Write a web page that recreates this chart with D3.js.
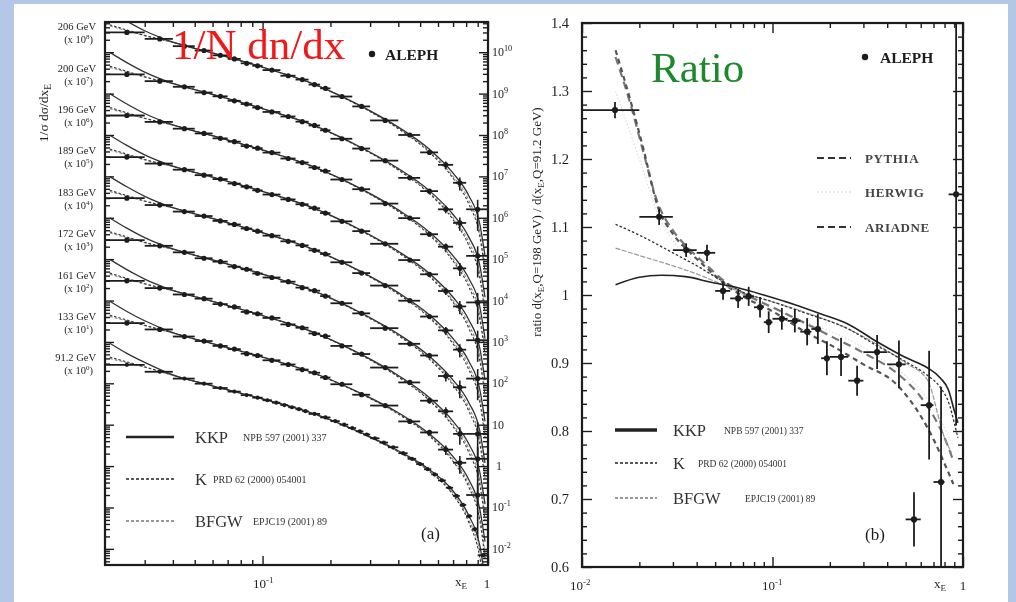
<!DOCTYPE html>
<html>
<head>
<meta charset="utf-8">
<script src="https://cdn.jsdelivr.net/npm/d3@7"></script>
<style>
body { margin: 0; background: #b5c7e6; }
svg { display: block; font-family: "Liberation Serif", "Times New Roman", serif; }
</style>
</head>
<body>
<svg id="chart" width="1016" height="602"></svg>
<script>
// ---- panel (a): 1/sigma dsigma/dx at each energy, scaled by 10^k ----
const energies = ['206 GeV', '200 GeV', '196 GeV', '189 GeV', '183 GeV', '172 GeV', '161 GeV', '133 GeV', '91.2 GeV'];
const scalePow = [8, 7, 6, 5, 4, 3, 2, 1, 0];
const statFactor = [1, 1, 1, 1, 1, 1.3, 1.3, 1.3, 1];

const lep2Edges = [0.02, 0.03, 0.04, 0.05, 0.06, 0.07, 0.08, 0.09, 0.10, 0.12, 0.14, 0.16, 0.18, 0.20, 0.25, 0.30, 0.40, 0.50, 0.60, 0.70, 0.80, 1.00];
const lep2X = [0.025, 0.035, 0.045, 0.055, 0.065, 0.075, 0.085, 0.095, 0.11, 0.13, 0.15, 0.17, 0.19, 0.225, 0.275, 0.35, 0.45, 0.55, 0.65, 0.75, 0.9];
const lep2RelErr = [0.02, 0.02, 0.02, 0.02, 0.02, 0.02, 0.025, 0.025, 0.025, 0.03, 0.03, 0.035, 0.035, 0.04, 0.05, 0.06, 0.08, 0.12, 0.2, 0.35, 0.7];

const z0Edges = [0.02, 0.03, 0.04, 0.05, 0.06, 0.07, 0.08, 0.09, 0.10, 0.11, 0.12, 0.13, 0.14, 0.15, 0.16, 0.18, 0.20, 0.22, 0.24, 0.26, 0.28, 0.30, 0.33, 0.36, 0.40, 0.44, 0.48, 0.52, 0.56, 0.60, 0.65, 0.70, 0.75, 0.80, 0.85, 0.90, 1.00];
const z0X = [0.025, 0.035, 0.045, 0.055, 0.065, 0.075, 0.085, 0.095, 0.105, 0.115, 0.125, 0.135, 0.145, 0.155, 0.17, 0.19, 0.21, 0.23, 0.25, 0.27, 0.29, 0.315, 0.345, 0.38, 0.42, 0.46, 0.5, 0.54, 0.58, 0.625, 0.675, 0.725, 0.775, 0.825, 0.875, 0.95];
const z0RelErr = [0.01, 0.01, 0.01, 0.01, 0.01, 0.01, 0.01, 0.01, 0.01, 0.01, 0.01, 0.01, 0.01, 0.01, 0.01, 0.01, 0.01, 0.01, 0.01, 0.01, 0.01, 0.01, 0.01, 0.01, 0.01, 0.01, 0.01, 0.012, 0.012, 0.015, 0.02, 0.025, 0.03, 0.04, 0.06, 0.1];

const y206 = [300, 210, 140, 110, 84, 69, 54, 47, 37, 27, 21.8, 16.5, 13.4, 8.5, 4.9, 2.25, 1.0, 0.38, 0.19, 0.07, 0.016];
const y200 = [290, 200, 146, 106, 86, 67, 56, 46, 36, 28, 21, 17, 13, 8.1, 4.7, 2.4, 0.92, 0.44, 0.16, 0.075, 0.012];
const y196 = [296, 207, 142, 109, 83, 69, 54, 48, 37.5, 27, 21.6, 16.4, 13.5, 8.4, 4.9, 2.2, 0.98, 0.4, 0.2, 0.06, 0.009];
const y189 = [292, 204, 145, 107, 86, 67, 56, 46, 36.4, 27.8, 21.2, 17, 13, 8.2, 4.75, 2.35, 0.95, 0.43, 0.17, 0.072, 0.011];
const y183 = [298, 203, 141, 110, 84, 69, 55, 47.5, 37, 27, 21.5, 16.3, 13.3, 8.4, 4.6, 2.3, 0.99, 0.41, 0.19, 0.065, 0.013];
const y172 = [288, 210, 146, 105, 87, 66, 57, 45, 36, 28.5, 20.5, 17.3, 12.8, 8.6, 4.9, 2.15, 0.9, 0.47, 0.15, 0.08, 0.006];
const y161 = [300, 200, 140, 111, 82, 70, 53, 48, 38, 26.5, 22, 16, 13.8, 8, 5.1, 2.4, 1.05, 0.38, 0.21, 0.06, 0.015];
const y133 = [285, 200, 135, 105, 80, 67, 52, 47, 36, 28.5, 21.5, 18, 13.8, 9.5, 5.3, 2.9, 1.2, 0.65, 0.25, 0.12, 0.02];
const y912 = [280, 190, 130, 98, 77, 63, 52, 45, 39, 34, 29.8, 26.4, 23.7, 21.2, 18.2, 15, 12.2, 10, 8.3, 6.9, 5.8, 4.7, 3.7, 2.85, 2.05, 1.5, 1.12, 0.84, 0.63, 0.45, 0.3, 0.19, 0.115, 0.062, 0.03, 0.007];

// theory curves: rows for 91.2 GeV, 133 GeV and LEP2 energies
const theoryX = [0.021, 0.025, 0.03, 0.04, 0.06, 0.1, 0.17, 0.27, 0.4, 0.55, 0.7, 0.82, 0.92, 0.97];
const kkpZ0 = [930, 530, 320, 160, 87, 42, 18.2, 6.6, 2.35, 0.82, 0.25, 0.065, 0.012, 0.002];
const kkp133 = [960, 545, 325, 168, 91, 43, 17.5, 5.9, 1.95, 0.6, 0.17, 0.048, 0.009, 0.0015];
const kkpLep2 = [990, 560, 330, 176, 96, 43.5, 16.8, 5.2, 1.55, 0.45, 0.12, 0.035, 0.007, 0.0012];
const kZ0 = [430, 330, 250, 156, 86, 41.5, 18, 6.4, 2.2, 0.74, 0.2, 0.045, 0.006, 0.0008];
const k133 = [445, 338, 252, 165, 90, 42.5, 17.2, 5.7, 1.8, 0.53, 0.13, 0.032, 0.0048, 0.0006];
const kLep2 = [460, 345, 255, 174, 95, 43, 16.5, 5.0, 1.42, 0.38, 0.09, 0.022, 0.0035, 0.0005];
const bfgwZ0 = [400, 315, 245, 155, 86, 42, 18.1, 6.5, 2.25, 0.77, 0.22, 0.052, 0.008, 0.001];
const bfgw133 = [415, 322, 248, 164, 90, 42.8, 17.3, 5.8, 1.85, 0.56, 0.145, 0.038, 0.006, 0.0008];
const bfgwLep2 = [430, 330, 250, 173, 95, 43.2, 16.6, 5.1, 1.47, 0.41, 0.1, 0.027, 0.0045, 0.0007];
const theoryRow = [2, 2, 2, 2, 2, 2, 2, 1, 0];

// ---- panel (b): ratio Q=198 / Q=91.2 ----
const ratioX = [0.0149, 0.0254, 0.0352, 0.0453, 0.055, 0.066, 0.075, 0.086, 0.0955, 0.112, 0.131, 0.152, 0.173, 0.193, 0.229, 0.278, 0.354, 0.461, 0.553, 0.664, 0.767, 0.92];
const ratioLo = [0.01, 0.02, 0.03, 0.04, 0.05, 0.06, 0.07, 0.08, 0.09, 0.10, 0.12, 0.14, 0.16, 0.18, 0.20, 0.25, 0.30, 0.40, 0.50, 0.60, 0.70, 0.84];
const ratioHi = [0.02, 0.03, 0.04, 0.05, 0.06, 0.07, 0.08, 0.09, 0.10, 0.12, 0.14, 0.16, 0.18, 0.20, 0.25, 0.30, 0.40, 0.50, 0.60, 0.70, 0.80, 1.00];
const ratioY = [1.272, 1.115, 1.066, 1.062, 1.006, 0.995, 0.998, 0.982, 0.960, 0.965, 0.962, 0.946, 0.950, 0.907, 0.909, 0.874, 0.916, 0.898, 0.670, 0.838, 0.725, 1.148];
const ratioErr = [0.012, 0.012, 0.01, 0.012, 0.013, 0.014, 0.014, 0.015, 0.016, 0.016, 0.017, 0.02, 0.022, 0.025, 0.028, 0.022, 0.025, 0.035, 0.04, 0.08, 0.14, 0.34];

const ratioKKP = [[0.015, 1.015], [0.02, 1.026], [0.026, 1.029], [0.035, 1.027], [0.047, 1.019], [0.065, 1.011], [0.09, 1.0], [0.13, 0.986], [0.18, 0.972], [0.25, 0.957], [0.35, 0.932], [0.5, 0.908], [0.65, 0.893], [0.76, 0.878], [0.84, 0.86], [0.9, 0.83], [0.94, 0.812]];
const ratioK = [[0.015, 1.104], [0.02, 1.088], [0.03, 1.062], [0.04, 1.043], [0.055, 1.02], [0.07, 1.004], [0.1, 0.99], [0.15, 0.973], [0.25, 0.95], [0.35, 0.926], [0.5, 0.902], [0.65, 0.882], [0.76, 0.864], [0.85, 0.838], [0.9, 0.812], [0.94, 0.79]];
const ratioBFGW = [[0.015, 1.069], [0.02, 1.058], [0.03, 1.043], [0.04, 1.031], [0.055, 1.015], [0.07, 1.003], [0.1, 0.99], [0.15, 0.974], [0.25, 0.95], [0.35, 0.928], [0.5, 0.9], [0.65, 0.875], [0.8, 0.79], [0.87, 0.768]];
const ratioPYTHIA = [[0.015, 1.36], [0.018, 1.285], [0.021, 1.215], [0.025, 1.13], [0.03, 1.09], [0.037, 1.062], [0.045, 1.04], [0.055, 1.018], [0.07, 0.998], [0.1, 0.976], [0.15, 0.945], [0.2, 0.927], [0.3, 0.898], [0.45, 0.868], [0.6, 0.822], [0.7, 0.788], [0.8, 0.752], [0.89, 0.722]];
const ratioARIADNE = [[0.015, 1.35], [0.018, 1.28], [0.021, 1.21], [0.025, 1.135], [0.03, 1.095], [0.037, 1.066], [0.045, 1.044], [0.055, 1.022], [0.07, 1.003], [0.1, 0.982], [0.15, 0.958], [0.2, 0.94], [0.3, 0.915], [0.45, 0.885], [0.6, 0.85], [0.7, 0.822], [0.8, 0.79], [0.88, 0.76]];
const ratioHERWIG = [[0.015, 1.3], [0.02, 1.2], [0.025, 1.12], [0.03, 1.08], [0.04, 1.045], [0.055, 1.02], [0.07, 1.0], [0.1, 0.98], [0.15, 0.96], [0.25, 0.935], [0.4, 0.9], [0.6, 0.86], [0.75, 0.82], [0.88, 0.78]];

const svg = d3.select('#chart');
const ink = '#1e1e1e';

svg.append('rect').attr('x', 14).attr('y', 4).attr('width', 994).attr('height', 598).attr('fill', '#fff');

const defs = svg.append('defs');
defs.append('filter').attr('id', 'soft').attr('x', 0).attr('y', 0).attr('width', 1).attr('height', 1)
	.append('feGaussianBlur').attr('stdDeviation', 0.45);
defs.append('clipPath').attr('id', 'clipA')
	.append('rect').attr('x', 105).attr('y', 22).attr('width', 383).attr('height', 543);
defs.append('clipPath').attr('id', 'clipB')
	.append('rect').attr('x', 582).attr('y', 23).attr('width', 381).attr('height', 544);

const root = svg.append('g').attr('filter', 'url(#soft)');

// ---------- scales ----------
const xA = d3.scaleLog().domain([0.02, 1]).range([105, 488]);
const yA = d3.scaleLog().domain([Math.pow(10, -2.39), Math.pow(10, 10.73)]).range([565, 22]);
const xB = d3.scaleLog().domain([0.01, 1]).range([582, 963]);
const yB = d3.scaleLinear().domain([0.6, 1.4]).range([567, 23]);

function logTicks(scale, major) {
	const [a, b] = scale.domain();
	const out = [];
	for (let d = Math.floor(Math.log10(a)); d <= Math.ceil(Math.log10(b)); d++) {
		for (let k = 1; k <= 9; k++) {
			const v = k * Math.pow(10, d);
			if (v >= a * 0.999 && v <= b * 1.001 && ((k === 1) === major)) out.push(+v.toPrecision(6));
		}
	}
	return out;
}

function tickSet(g, axisFn, scale, values, size, pos) {
	g.append('g')
		.attr('transform', pos)
		.call(axisFn(scale).tickValues(values).tickSize(size).tickSizeOuter(0).tickFormat(() => ''))
		.call(s => s.select('.domain').remove())
		.selectAll('line').attr('stroke', ink).attr('stroke-width', 1.4);
}

function supText(g, x, y, base, sup, size, anchor) {
	const t = g.append('text').attr('x', x).attr('y', y).attr('font-size', size)
		.attr('text-anchor', anchor || 'start').attr('fill', ink);
	t.append('tspan').text(base);
	t.append('tspan').attr('dy', -size * 0.42).attr('font-size', size * 0.68).text(sup);
	return t;
}

// ---------- panel (a) ----------
const pa = root.append('g');
const pac = pa.append('g').attr('clip-path', 'url(#clipA)');

tickSet(pa, d3.axisTop, xA, logTicks(xA, true), 9, 'translate(0,565)');
tickSet(pa, d3.axisTop, xA, logTicks(xA, false), 5, 'translate(0,565)');
tickSet(pa, d3.axisBottom, xA, logTicks(xA, true), 9, 'translate(0,22)');
tickSet(pa, d3.axisBottom, xA, logTicks(xA, false), 5, 'translate(0,22)');
tickSet(pa, d3.axisRight, yA, logTicks(yA, true), 9, 'translate(105,0)');
tickSet(pa, d3.axisRight, yA, logTicks(yA, false), 5, 'translate(105,0)');
tickSet(pa, d3.axisLeft, yA, logTicks(yA, true), 9, 'translate(488,0)');
tickSet(pa, d3.axisLeft, yA, logTicks(yA, false), 5, 'translate(488,0)');

// theory curves
const lineA = d3.line().x(d => xA(d[0])).y(d => yA(d[1])).curve(d3.curveMonotoneX);
const kkpRows = [kkpZ0, kkp133, kkpLep2];
const kRows = [kZ0, k133, kLep2];
const bfgwRows = [bfgwZ0, bfgw133, bfgwLep2];
const models = [
	{rows: bfgwRows, stroke: '#8a8a8a', width: 1.1, dash: '3,2'},
	{rows: kRows, stroke: '#333', width: 1.1, dash: '2.5,2'},
	{rows: kkpRows, stroke: '#333', width: 1.3, dash: null}
];
energies.forEach((e, i) => {
	const f = Math.pow(10, scalePow[i]);
	models.forEach(m => {
		const row = m.rows[theoryRow[i]];
		pac.append('path')
			.datum(theoryX.map((x, j) => [x, row[j] * f]))
			.attr('d', lineA)
			.attr('fill', 'none')
			.attr('stroke', m.stroke)
			.attr('stroke-width', m.width)
			.attr('stroke-dasharray', m.dash);
	});
});

// data points
const seriesY = [y206, y200, y196, y189, y183, y172, y161, y133, y912];
seriesY.forEach((vals, i) => {
	const f = Math.pow(10, scalePow[i]);
	const isZ = i === seriesY.length - 1;
	const xs = isZ ? z0X : lep2X;
	const edges = isZ ? z0Edges : lep2Edges;
	const rel = isZ ? z0RelErr : lep2RelErr;
	const pts = vals.map((v, j) => ({x: xs[j], lo: edges[j], hi: edges[j + 1], y: v * f, e: rel[j] * statFactor[i]}));
	const g = pac.append('g').attr('class', 'series');
	g.selectAll('.hbar').data(pts).enter().append('line')
		.attr('x1', d => xA(d.lo)).attr('x2', d => xA(d.hi))
		.attr('y1', d => yA(d.y)).attr('y2', d => yA(d.y))
		.attr('stroke', ink).attr('stroke-width', 1.8);
	g.selectAll('.vbar').data(pts).enter().append('line')
		.attr('x1', d => xA(d.x)).attr('x2', d => xA(d.x))
		.attr('y1', d => yA(d.y * (1 + d.e))).attr('y2', d => yA(d.y * Math.max(0.05, 1 - d.e)))
		.attr('stroke', ink).attr('stroke-width', 1.6);
	g.selectAll('circle').data(pts).enter().append('circle')
		.attr('cx', d => xA(d.x)).attr('cy', d => yA(d.y))
		.attr('r', isZ ? 2.1 : 2.6).attr('fill', ink);
});

pa.append('rect').attr('x', 105).attr('y', 22).attr('width', 383).attr('height', 543)
	.attr('fill', 'none').attr('stroke', ink).attr('stroke-width', 2.2);

// right-side decade labels
logTicks(yA, true).forEach(v => {
	const p = Math.round(Math.log10(v));
	const y = yA(v) + 4;
	if (p === 0) pa.append('text').attr('x', 496).attr('y', y).attr('font-size', 12).attr('fill', ink).text('1');
	else if (p === 1) pa.append('text').attr('x', 492).attr('y', y).attr('font-size', 12).attr('fill', ink).text('10');
	else supText(pa, 492, y, '10', String(p), 12);
});

// energy labels on the left
energies.forEach((e, i) => {
	const y0 = yA(Math.pow(10, 10 - i)) - 22;
	pa.append('text').attr('x', 96).attr('y', y0).attr('text-anchor', 'end')
		.attr('font-size', 10.5).attr('fill', ink).text(e);
	const t = pa.append('text').attr('x', 93).attr('y', y0 + 13).attr('text-anchor', 'end')
		.attr('font-size', 10.5).attr('fill', ink);
	t.append('tspan').text('(x 10');
	t.append('tspan').attr('dy', -4).attr('font-size', 7).text(String(scalePow[i]));
	t.append('tspan').attr('dy', 4).text(')');
});

const yt = pa.append('text').attr('transform', 'translate(48,113) rotate(-90)')
	.attr('text-anchor', 'middle').attr('font-size', 13.5).attr('fill', ink);
yt.append('tspan').text('1/σ dσ/dx');
yt.append('tspan').attr('dy', 3).attr('font-size', 9.5).text('E');

supText(pa, 253, 588, '10', '-1', 13);
pa.append('text').attr('x', 487).attr('y', 588).attr('text-anchor', 'middle').attr('font-size', 13).attr('fill', ink).text('1');
const xe = pa.append('text').attr('x', 455).attr('y', 586).attr('font-size', 13).attr('fill', ink);
xe.append('tspan').text('x');
xe.append('tspan').attr('dy', 3).attr('font-size', 9).text('E');

pa.append('circle').attr('cx', 372).attr('cy', 54).attr('r', 3.2).attr('fill', ink);
pa.append('text').attr('x', 385).attr('y', 60).attr('font-size', 15.5).attr('font-weight', 'bold').attr('fill', ink).text('ALEPH');

const legA = [
	{name: 'KKP', ref: 'NPB 597 (2001) 337', refX: 243, y: 437, stroke: '#222', width: 2.6, dash: null},
	{name: 'K', ref: 'PRD 62 (2000) 054001', refX: 213, y: 479, stroke: '#222', width: 1.6, dash: '3,2'},
	{name: 'BFGW', ref: 'EPJC19 (2001) 89', refX: 253, y: 521, stroke: '#777', width: 1.5, dash: '3,2'}
];
legA.forEach(l => {
	pa.append('line').attr('x1', 126).attr('x2', 174).attr('y1', l.y).attr('y2', l.y)
		.attr('stroke', l.stroke).attr('stroke-width', l.width).attr('stroke-dasharray', l.dash);
	pa.append('text').attr('x', 195).attr('y', l.y + 6).attr('font-size', 16.5).attr('fill', '#333').text(l.name);
	pa.append('text').attr('x', l.refX).attr('y', l.y + 4).attr('font-size', 10).attr('fill', '#333').text(l.ref);
});
pa.append('text').attr('x', 421).attr('y', 539).attr('font-size', 17).attr('fill', ink).text('(a)');

// ---------- panel (b) ----------
const pb = root.append('g');
const pbc = pb.append('g').attr('clip-path', 'url(#clipB)');

const yMajor = d3.range(0.6, 1.401, 0.1).map(v => +v.toFixed(2));
const yMinor = d3.range(0.6, 1.401, 0.02).map(v => +v.toFixed(2)).filter(v => !yMajor.includes(v));
tickSet(pb, d3.axisTop, xB, logTicks(xB, true), 10, 'translate(0,567)');
tickSet(pb, d3.axisTop, xB, logTicks(xB, false), 5, 'translate(0,567)');
tickSet(pb, d3.axisBottom, xB, logTicks(xB, true), 10, 'translate(0,23)');
tickSet(pb, d3.axisBottom, xB, logTicks(xB, false), 5, 'translate(0,23)');
tickSet(pb, d3.axisRight, yB, yMajor, 10, 'translate(582,0)');
tickSet(pb, d3.axisRight, yB, yMinor, 5, 'translate(582,0)');
tickSet(pb, d3.axisLeft, yB, yMajor, 10, 'translate(963,0)');
tickSet(pb, d3.axisLeft, yB, yMinor, 5, 'translate(963,0)');

const lineB = d3.line().x(d => xB(d[0])).y(d => yB(d[1])).curve(d3.curveMonotoneX);
const ratioCurves = [
	{d: ratioHERWIG, stroke: '#dedede', width: 1.2, dash: '1.5,2'},
	{d: ratioARIADNE, stroke: '#777', width: 2.2, dash: '8,5'},
	{d: ratioPYTHIA, stroke: '#555', width: 2.2, dash: '5,4'},
	{d: ratioBFGW, stroke: '#999', width: 1.2, dash: '5,1.5'},
	{d: ratioK, stroke: '#333', width: 1.3, dash: '2.5,2'},
	{d: ratioKKP, stroke: '#222', width: 1.6, dash: null}
];
ratioCurves.forEach(c => {
	pbc.append('path').datum(c.d).attr('d', lineB).attr('fill', 'none')
		.attr('stroke', c.stroke).attr('stroke-width', c.width).attr('stroke-dasharray', c.dash);
});

const rpts = ratioX.map((x, i) => ({x: x, lo: ratioLo[i], hi: ratioHi[i], y: ratioY[i], e: ratioErr[i]}));
pbc.selectAll('.rh').data(rpts).enter().append('line')
	.attr('x1', d => xB(d.lo)).attr('x2', d => xB(d.hi))
	.attr('y1', d => yB(d.y)).attr('y2', d => yB(d.y))
	.attr('stroke', ink).attr('stroke-width', 1.8);
pbc.selectAll('.rv').data(rpts).enter().append('line')
	.attr('x1', d => xB(d.x)).attr('x2', d => xB(d.x))
	.attr('y1', d => yB(d.y + d.e)).attr('y2', d => yB(d.y - d.e))
	.attr('stroke', ink).attr('stroke-width', 1.8);
pbc.selectAll('circle').data(rpts).enter().append('circle')
	.attr('cx', d => xB(d.x)).attr('cy', d => yB(d.y)).attr('r', 3.1).attr('fill', ink);

pb.append('rect').attr('x', 582).attr('y', 23).attr('width', 381).attr('height', 544)
	.attr('fill', 'none').attr('stroke', ink).attr('stroke-width', 2.2);

yMajor.forEach(v => {
	pb.append('text').attr('x', 569).attr('y', yB(v) + 5).attr('text-anchor', 'end')
		.attr('font-size', 14.5).attr('fill', ink).text(v === 1 ? '1' : v.toFixed(1));
});
supText(pb, 570, 590, '10', '-2', 13);
supText(pb, 762, 590, '10', '-1', 13);
pb.append('text').attr('x', 963).attr('y', 590).attr('text-anchor', 'middle').attr('font-size', 13).attr('fill', ink).text('1');
const xe2 = pb.append('text').attr('x', 934).attr('y', 588).attr('font-size', 13).attr('fill', ink);
xe2.append('tspan').text('x');
xe2.append('tspan').attr('dy', 3).attr('font-size', 9).text('E');

const yt2 = pb.append('text').attr('transform', 'translate(541,222) rotate(-90)')
	.attr('text-anchor', 'middle').attr('font-size', 13).attr('fill', ink);
yt2.append('tspan').text('ratio d(x');
yt2.append('tspan').attr('dy', 3).attr('font-size', 9).text('E');
yt2.append('tspan').attr('dy', -3).text(',Q=198 GeV) / d(x');
yt2.append('tspan').attr('dy', 3).attr('font-size', 9).text('E');
yt2.append('tspan').attr('dy', -3).text(',Q=91.2 GeV)');

pb.append('circle').attr('cx', 865).attr('cy', 57).attr('r', 3.2).attr('fill', ink);
pb.append('text').attr('x', 880).attr('y', 63).attr('font-size', 15.5).attr('font-weight', 'bold').attr('fill', ink).text('ALEPH');

const legMC = [
	{name: 'PYTHIA', y: 158, stroke: '#333', dash: '7,4', width: 2},
	{name: 'HERWIG', y: 192, stroke: '#e2e2e2', dash: '2,2', width: 1.5},
	{name: 'ARIADNE', y: 227, stroke: '#333', dash: '7,4', width: 2}
];
legMC.forEach(l => {
	pb.append('line').attr('x1', 817).attr('x2', 851).attr('y1', l.y).attr('y2', l.y)
		.attr('stroke', l.stroke).attr('stroke-width', l.width).attr('stroke-dasharray', l.dash);
	pb.append('text').attr('x', 865).attr('y', l.y + 5).attr('font-size', 13).attr('font-weight', 'bold')
		.attr('letter-spacing', 0.6).attr('fill', '#444').text(l.name);
});

const legB = [
	{name: 'KKP', ref: 'NPB 597 (2001) 337', refX: 724, y: 430, stroke: '#222', width: 3.4, dash: null},
	{name: 'K', ref: 'PRD 62 (2000) 054001', refX: 698, y: 463, stroke: '#222', width: 1.6, dash: '3,2'},
	{name: 'BFGW', ref: 'EPJC19 (2001) 89', refX: 745, y: 498, stroke: '#777', width: 1.5, dash: '3,2'}
];
legB.forEach(l => {
	pb.append('line').attr('x1', 615).attr('x2', 657).attr('y1', l.y).attr('y2', l.y)
		.attr('stroke', l.stroke).attr('stroke-width', l.width).attr('stroke-dasharray', l.dash);
	pb.append('text').attr('x', 673).attr('y', l.y + 6).attr('font-size', 16.5).attr('fill', '#333').text(l.name);
	pb.append('text').attr('x', l.refX).attr('y', l.y + 4).attr('font-size', 9.5).attr('fill', '#333').text(l.ref);
});
pb.append('text').attr('x', 865).attr('y', 540).attr('font-size', 17).attr('fill', ink).text('(b)');

// ---------- slide titles ----------
svg.append('text').attr('x', 172).attr('y', 59).attr('font-size', 43).attr('fill', '#f01818').text('1/N dn/dx');
svg.append('text').attr('x', 651).attr('y', 82).attr('font-size', 43).attr('fill', '#1c8a2c').text('Ratio');
</script>
</body>
</html>
